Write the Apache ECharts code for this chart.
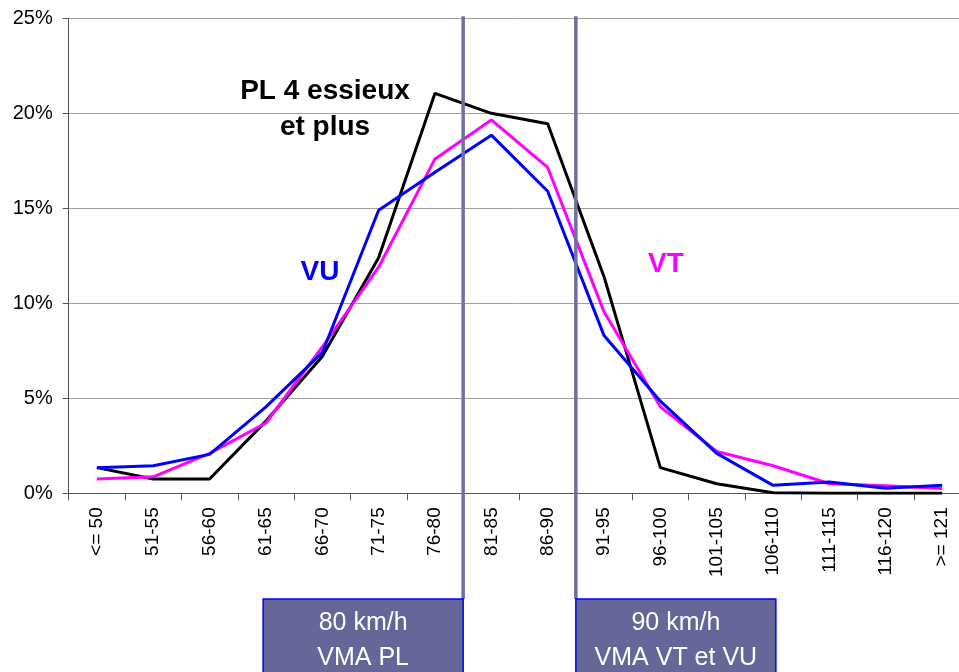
<!DOCTYPE html>
<html>
<head>
<meta charset="utf-8">
<style>
  html, body { margin: 0; padding: 0; background: #fff; overflow: hidden; width: 959px; height: 672px; }
  #chart { width: 980px; height: 672px; }
</style>
<script src="https://cdn.jsdelivr.net/npm/echarts@6/dist/echarts.min.js"></script>
</head>
<body>
<div id="chart"></div>
<script>
const categories = ['<= 50', '51-55', '56-60', '61-65', '66-70', '71-75', '76-80', '81-85',
  '86-90', '91-95', '96-100', '101-105', '106-110', '111-115', '116-120', '>= 121'];
const pl4 = [1.35, 0.75, 0.75, 3.8, 7.2, 12.4, 21.05, 20.0, 19.45, 11.4, 1.35, 0.5, 0.03, 0.0, 0.0, 0.0];
const vt  = [0.75, 0.87, 2.1, 3.7, 7.7, 11.9, 17.6, 19.65, 17.15, 9.55, 4.55, 2.2, 1.45, 0.5, 0.4, 0.25];
const vu  = [1.35, 1.45, 2.05, 4.55, 7.4, 14.9, 16.9, 18.85, 15.9, 8.3, 4.85, 2.1, 0.42, 0.6, 0.27, 0.42];
const yTicks = [0, 5, 10, 15, 20, 25];
const limitLabels = [['80 km/h', 'VMA PL'], ['90 km/h', 'VMA VT et VU']];
const seriesLabels = ['PL 4 essieux\net plus', 'VT', 'VU'];

const FONT = '"Liberation Sans", Arial, sans-serif';
const chart = echarts.init(document.getElementById('chart'));
const option = {
  animation: false,
  backgroundColor: '#ffffff',
  grid: { left: 68.7, top: 18.3, right: 9.7, bottom: 178.7, containLabel: false },
  xAxis: {
    type: 'category',
    data: categories,
    boundaryGap: true,
    axisLine: { lineStyle: { color: '#555555', width: 1 } },
    axisTick: { show: true, length: 7, interval: 0, lineStyle: { color: '#555555' } },
    axisLabel: { interval: 0, rotate: 90, margin: 14, fontSize: 19, color: '#000', fontFamily: FONT },
    splitLine: { show: false }
  },
  yAxis: {
    type: 'value',
    min: yTicks[0],
    max: yTicks[yTicks.length - 1],
    interval: 5,
    axisLine: { show: true, lineStyle: { color: '#555555', width: 1 } },
    axisTick: { show: true, length: 6, lineStyle: { color: '#555555' } },
    axisLabel: { formatter: '{value}%', margin: 16, fontSize: 20, color: '#000', fontFamily: FONT },
    splitLine: { show: true, lineStyle: { color: '#a0a0a0', width: 1 } }
  },
  series: [
    { name: 'PL 4 essieux et plus', type: 'line', data: pl4, symbol: 'none',
      lineStyle: { color: '#000000', width: 3 }, z: 2 },
    { name: 'VT', type: 'line', data: vt, symbol: 'none',
      lineStyle: { color: '#ff00ff', width: 3 }, z: 3 },
    { name: 'VU', type: 'line', data: vu, symbol: 'none',
      lineStyle: { color: '#0000ff', width: 3 }, z: 4 }
  ]
};
chart.setOption(option);

function boundary(i) {
  const a = chart.convertToPixel({ xAxisIndex: 0 }, categories[i]);
  const b = chart.convertToPixel({ xAxisIndex: 0 }, categories[i + 1]);
  return (a + b) / 2;
}
const xPL = boundary(6);
const xVT = boundary(8);
const yTop = chart.convertToPixel({ yAxisIndex: 0 }, yTicks[yTicks.length - 1]) - 2;
const boxTop = 599;
const boxW = 200;

const graphics = [];
[xPL, xVT].forEach(function (x) {
  graphics.push({ type: 'line', z: 10, shape: { x1: x, y1: yTop, x2: x, y2: boxTop },
    style: { stroke: '#7070a0', lineWidth: 3.5 } });
});
[[xPL - boxW, limitLabels[0]], [xVT, limitLabels[1]]].forEach(function (d) {
  graphics.push({ type: 'rect', z: 11, shape: { x: d[0], y: boxTop, width: boxW, height: 90 },
    style: { fill: '#666699', stroke: '#0000ff', lineWidth: 1.5 } });
  graphics.push({ type: 'text', z: 12, x: d[0] + boxW / 2, y: 641,
    style: { text: d[1].join('\n'), fill: '#ffffff', font: '25px ' + FONT,
      align: 'center', verticalAlign: 'middle', lineHeight: 35 } });
});
graphics.push({ type: 'text', z: 12, x: 325, y: 109,
  style: { text: seriesLabels[0], fill: '#000000', font: 'bold 28px ' + FONT,
    align: 'center', verticalAlign: 'middle', lineHeight: 36 } });
graphics.push({ type: 'text', z: 12, x: 666, y: 264,
  style: { text: seriesLabels[1], fill: '#ff00ff', font: 'bold 28px ' + FONT,
    align: 'center', verticalAlign: 'middle' } });
graphics.push({ type: 'text', z: 12, x: 320, y: 272,
  style: { text: seriesLabels[2], fill: '#0000ff', font: 'bold 28px ' + FONT,
    align: 'center', verticalAlign: 'middle' } });
chart.setOption({ graphic: graphics });
</script>
</body>
</html>
